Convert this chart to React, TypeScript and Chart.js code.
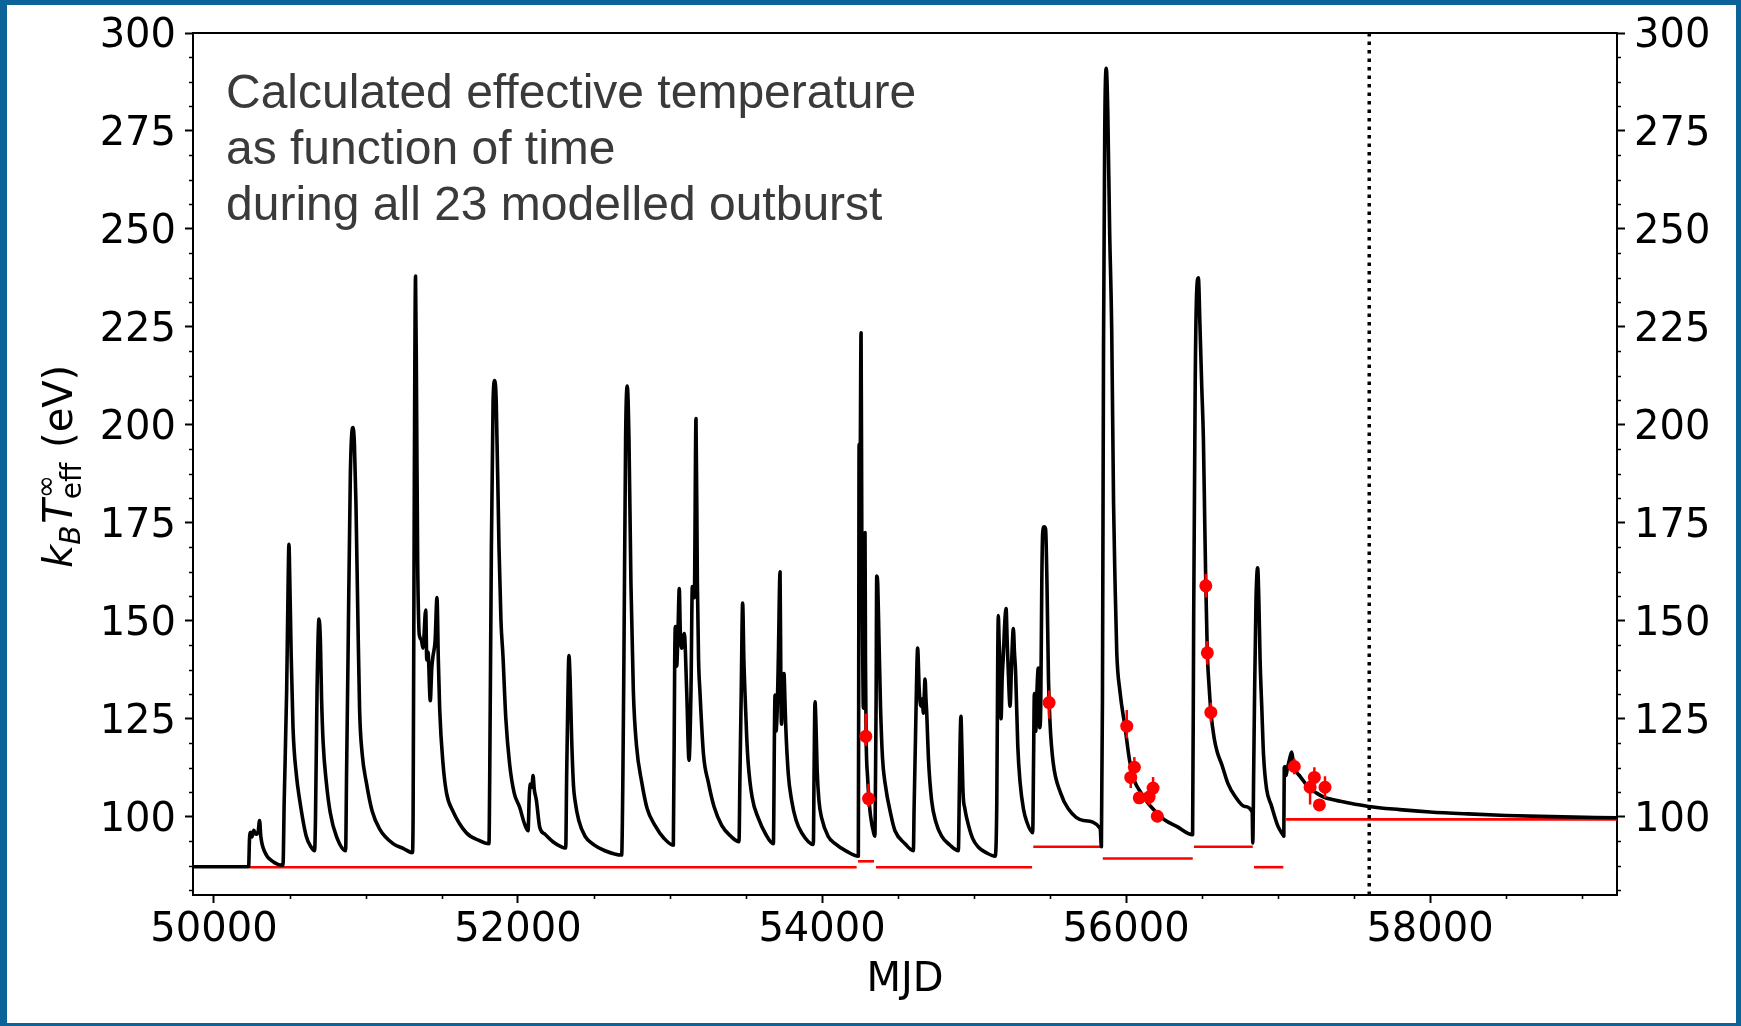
import React, { useEffect, useRef } from "react";
import { Chart, registerables } from "chart.js";
Chart.register(...registerables);

// ---- axis ranges / ticks ----
const xMin = 49862;
const xMax = 59230;
const yMin = 80;
const yMax = 300;
const xTicks = [50000, 52000, 54000, 56000, 58000];
const yTicks = [100, 125, 150, 175, 200, 225, 250, 275, 300];
const markerMJD = 57600;

// ---- model curve ----
const curveMJD = [
  49862, 50228, 50234, 50242, 50250, 50262, 50275, 50290, 50300, 50308, 50334, 50388, 50454,
  50462, 50478, 50488, 50493, 50499, 50508, 50520, 50542, 50564, 50607, 50640, 50662,
  50668, 50678, 50691, 50700, 50708, 50718, 50739, 50765, 50805, 50866,
  50872, 50882, 50897, 50914, 50924, 50934, 50947, 50958, 50975, 51002, 51040, 51090, 51178, 51250, 51305,
  51310, 51318, 51326, 51333, 51340, 51348, 51353, 51365, 51375, 51393, 51400, 51408, 51423, 51433, 51441, 51455, 51467, 51476, 51485, 51507, 51530, 51572, 51660, 51740, 51809,
  51814, 51825, 51836, 51847, 51857, 51875, 51888, 51901, 51920, 51945, 51975, 52011, 52040, 52066,
  52075, 52084, 52092, 52099, 52107, 52121, 52143, 52178, 52230, 52314,
  52320, 52326, 52335, 52343, 52353, 52365, 52375, 52400, 52441, 52500, 52572, 52682,
  52690, 52697, 52708, 52719, 52730, 52743, 52759, 52780, 52814, 52850, 52901, 52960, 53022,
  53031, 53035, 53044, 53053, 53061, 53068, 53077, 53094, 53110, 53125, 53138, 53147, 53160, 53171, 53180, 53188, 53197, 53220, 53252, 53290, 53340, 53400, 53454,
  53460, 53468, 53478, 53486, 53493, 53505, 53515, 53540, 53581, 53630, 53680,
  53688, 53691, 53697, 53706, 53713, 53724, 53730, 53734, 53741, 53750, 53756, 53761, 53778, 53800, 53830, 53866, 53943,
  53948, 53954, 53960, 53968, 53980, 53998, 54040, 54086, 54160, 54239,
  54242, 54244, 54250, 54257, 54262, 54268, 54272, 54278, 54283, 54286, 54290, 54300, 54308, 54320, 54342, 54348,
  54352, 54356, 54360, 54367, 54375, 54385, 54398, 54414, 54458, 54480, 54546, 54601,
  54606, 54615, 54624, 54629, 54640, 54651, 54660, 54667, 54678, 54684, 54689, 54700, 54721, 54750, 54787, 54840, 54897,
  54903, 54908, 54914, 54920, 54928, 54940, 54952, 54990, 55029, 55080, 55138,
  55150, 55156, 55160, 55165, 55169, 55174, 55178, 55185, 55193, 55203, 55211, 55218, 55226, 55237, 55248, 55259, 55266, 55274, 55288, 55303, 55325, 55347, 55386,
  55392, 55397, 55406, 55413, 55423, 55432, 55439, 55446, 55452, 55462, 55471, 55480, 55490, 55500, 55520, 55570, 55620, 55720, 55830,
  55838, 55845, 55852, 55860, 55870, 55880, 55892, 55906, 55918, 55928, 55939, 55960, 55994, 56025, 56059, 56092, 56147, 56202, 56260, 56333, 56438,
  56445, 56455, 56466, 56476, 56486, 56498, 56509, 56518, 56525, 56535, 56547, 56559, 56580, 56600, 56629, 56670, 56717, 56780, 56830,
  56834, 56840, 56846, 56855, 56866, 56874, 56882, 56893, 56905, 56925, 56955, 57000, 57035,
  57038, 57041, 57046, 57052, 57060, 57075, 57090, 57100, 57120, 57145, 57200, 57254, 57300, 57364, 57450, 57594, 57800, 58000, 58250, 58500, 58800, 59230,
];
const curveTeff = [
  87.2, 87.2, 94.5, 96, 94.8, 96.5, 95.5, 96, 99, 95, 91, 88.5, 87.6,
  104, 132, 160, 169.5, 160, 141, 122.7, 110.7, 104.2, 95, 92.2, 91.3,
  100, 132, 150.4, 145, 130, 119, 108.8, 101, 95, 91.3,
  110, 141, 187, 199.3, 195, 180, 150, 127.3, 116, 108.8, 101.5, 96.8, 93.1, 91.8, 90.8,
  100, 185, 238, 205, 165, 148, 146, 145, 143, 152.7, 140, 142, 129.6, 138, 141, 145, 155.9, 140, 127.3, 113.4, 106, 101.4, 95.9, 94, 93.1,
  110, 168.8, 205.7, 211.3, 205.7, 168.8, 150, 141.1, 125, 113.4, 106, 102.4, 98.5, 96.4,
  106, 108.4, 107.5, 110.5, 107, 104.2, 97.3, 95.5, 93.6, 92,
  110, 125, 141.1, 135, 120, 108, 104.2, 99, 95, 92.8, 91.3, 90.2,
  110, 141, 196.5, 209.9, 196.5, 159.6, 131.9, 118, 108.8, 102, 97.8, 94.5, 92.7,
  140, 148.5, 138.4, 148, 158.2, 147, 143, 146.7, 131.9, 114.4, 132, 158.7, 155.9, 201.6, 160, 140, 131.9, 116, 108.8, 102.5, 97.8, 95, 93.6,
  110, 130, 154.5, 140, 131.9, 120, 113.4, 105, 99.6, 95.5, 93.1,
  125, 131, 121.8, 128, 141, 162.5, 130, 123.6, 133.7, 136.5, 130, 123.6, 111, 104.2, 99, 95.9, 92.9,
  112, 129.3, 124, 112, 104, 99.6, 95, 93.1, 91.2, 89.9,
  150, 195, 185, 223.5, 170, 140, 127.7, 150, 172.5, 140, 121, 110, 105, 100, 95.5, 95,
  110, 130, 161.4, 159, 145, 128, 115, 108.8, 99.6, 96.4, 93.1, 91.3,
  102.4, 120, 138, 143, 132, 128.2, 130, 126.4, 135.1, 130, 126.4, 115, 104.2, 98.5, 95, 92.8, 91.3,
  105, 118, 125.6, 118, 106, 102, 99.6, 94.5, 92.2, 90.8, 89.9,
  104, 140, 151.3, 145, 141, 130, 125, 135, 141.1, 150, 153.1, 145, 136.5, 128.2, 140, 148, 142, 136.5, 118, 108.8, 102, 98.7, 95.9,
  115, 131.4, 121.8, 131, 137.9, 122.7, 128, 160, 172.5, 174, 173.4, 159.6, 135, 124, 114, 106, 102, 99, 97,
  92.3, 130, 220, 275, 291, 280, 250, 224, 180, 159.6, 142, 132, 122.7, 114, 108.8, 106.5, 103.3, 101, 99, 97.5, 95.4,
  150, 210, 235, 237.5, 226, 210, 196.5, 175, 159, 141.6, 133, 126.4, 120, 116.5, 113.4, 108.5, 105.2, 102.6, 101.2,
  93.3, 112, 132, 155, 163.5, 155, 140, 128, 115.5, 107, 103, 97.5, 95.2,
  95, 112.5, 112.8, 110.5, 112, 114.5, 116.5, 114, 111.5, 110.3, 107.5, 106, 105, 104.3, 103.6, 102.6, 101.8, 101.2, 100.7, 100.3, 100, 99.7,
];

// ---- observed temperatures with error bars ----
const obsMJD = [54288, 54306, 55494, 56005, 56031, 56055, 56087, 56152, 56178, 56206, 56525, 56535, 56558, 57107, 57211, 57239, 57272, 57309];
const obsTeff = [120.5, 104.6, 129.1, 123.1, 110.0, 112.6, 104.8, 105.0, 107.3, 100.1, 158.9, 141.8, 126.6, 112.8, 107.5, 110.0, 103.0, 107.5];
const obsLo = [118.0, 102.5, 125.0, 120.0, 107.3, 109.6, 103.3, 103.0, 104.2, 98.9, 155.9, 138.8, 124.1, 110.8, 103.1, 107.3, 101.8, 104.8];
const obsHi = [126.3, 108.4, 132.2, 127.2, 112.0, 115.2, 106.3, 107.0, 110.1, 101.3, 161.9, 144.8, 129.1, 114.8, 109.9, 112.6, 104.2, 110.3];

// ---- base (initial) temperature levels per interval ----
const segStart = [50236, 54237, 54355, 55390, 55847, 56447, 56842, 57053];
const segEnd = [54228, 54342, 55382, 55840, 56439, 56834, 57035, 59230];
const segLevel = [87.1, 88.6, 87.1, 92.3, 89.3, 92.3, 87.1, 99.3];

const noteLines = [
  "Calculated effective temperature",
  "as function of time",
  "during all 23 modelled outburst",
];

const tickFont = { family: "'DejaVu Sans'", size: 40 };

const decorPlugin = {
  id: "decor",
  afterDatasetsDraw(chart: any) {
    const { ctx, chartArea: ca, scales } = chart;
    const xs = scales.x;
    const ys = scales.y;
    ctx.save();
    ctx.beginPath();
    ctx.rect(ca.left, ca.top, ca.right - ca.left, ca.bottom - ca.top);
    ctx.clip();
    ctx.strokeStyle = "#ff0000";
    ctx.lineWidth = 2.5;
    obsMJD.forEach((m, i) => {
      const px = xs.getPixelForValue(m);
      ctx.beginPath();
      ctx.moveTo(px, ys.getPixelForValue(obsLo[i]));
      ctx.lineTo(px, ys.getPixelForValue(obsHi[i]));
      ctx.stroke();
    });
    ctx.restore();
  },
  afterDraw(chart: any) {
    const { ctx, chartArea: ca, scales } = chart;
    const xs = scales.x;
    const ys = scales.y;
    ctx.save();
    ctx.strokeStyle = "#000";
    ctx.lineWidth = 2;
    // top spine
    ctx.beginPath();
    ctx.moveTo(ca.left - 1, ca.top);
    ctx.lineTo(ca.right + 1, ca.top);
    ctx.stroke();
    // minor ticks
    ctx.lineWidth = 1.6;
    for (let v = yMax; v >= yMin; v -= 6.25) {
      if (v % 25 === 0) continue;
      const py = Math.round(ys.getPixelForValue(v)) + 0.5;
      ctx.beginPath();
      ctx.moveTo(ca.left - 4, py);
      ctx.lineTo(ca.left, py);
      ctx.moveTo(ca.right, py);
      ctx.lineTo(ca.right + 4, py);
      ctx.stroke();
    }
    for (let v = 50500; v <= xMax; v += 500) {
      if (v % 2000 === 0) continue;
      const px = Math.round(xs.getPixelForValue(v)) + 0.5;
      ctx.beginPath();
      ctx.moveTo(px, ca.bottom);
      ctx.lineTo(px, ca.bottom + 4);
      ctx.stroke();
    }
    // x title
    ctx.fillStyle = "#000";
    ctx.font = "40px 'DejaVu Sans'";
    ctx.textAlign = "center";
    ctx.textBaseline = "alphabetic";
    ctx.fillText("MJD", (ca.left + ca.right) / 2, 991);
    // y title (rotated, mathtext-like)
    ctx.save();
    ctx.translate(72, 568);
    ctx.rotate(-Math.PI / 2);
    ctx.textAlign = "left";
    let cx = 0;
    ctx.font = "italic 40px 'DejaVu Sans'";
    ctx.fillText("k", cx, 0);
    cx += ctx.measureText("k").width;
    ctx.font = "italic 28px 'DejaVu Sans'";
    ctx.fillText("B", cx, 8);
    cx += ctx.measureText("B").width + 2;
    ctx.font = "italic 40px 'DejaVu Sans'";
    ctx.fillText("T", cx, 0);
    cx += ctx.measureText("T").width;
    ctx.font = "28px 'DejaVu Sans'";
    const wInf = ctx.measureText("∞").width;
    const wEff = ctx.measureText("eff").width;
    ctx.fillText("∞", cx + 1, -17);
    ctx.fillText("eff", cx, 9);
    cx += Math.max(wInf, wEff) + 2;
    ctx.font = "40px 'DejaVu Sans'";
    ctx.fillText(" (eV)", cx, 0);
    ctx.restore();
    // annotation
    ctx.fillStyle = "#3a3a3a";
    ctx.font = "48px 'Liberation Sans'";
    ctx.textAlign = "left";
    noteLines.forEach((t, i) => ctx.fillText(t, 226, 108 + i * 56));
    ctx.restore();
  },
};

export default function App() {
  const ref = useRef<HTMLCanvasElement>(null);
  useEffect(() => {
    const canvas = ref.current;
    if (!canvas) return;
    const datasets: any[] = [];
    datasets.push({
      data: obsMJD.map((m, i) => ({ x: m, y: obsTeff[i] })),
      showLine: false,
      pointRadius: 6.5,
      pointBackgroundColor: "#ff0000",
      pointBorderWidth: 0,
      borderColor: "#ff0000",
    });
    datasets.push({
      data: [
        { x: markerMJD, y: yMin },
        { x: markerMJD, y: yMax },
      ],
      showLine: true,
      borderColor: "#000",
      borderWidth: 3.5,
      borderDash: [3.5, 5],
      pointRadius: 0,
    });
    datasets.push({
      data: curveMJD.map((m, i) => ({ x: m, y: curveTeff[i] })),
      showLine: true,
      borderColor: "#000",
      borderWidth: 3.6,
      pointRadius: 0,
      cubicInterpolationMode: "monotone",
      borderJoinStyle: "round",
    });
    segStart.forEach((s, i) => {
      datasets.push({
        data: [
          { x: s, y: segLevel[i] },
          { x: segEnd[i], y: segLevel[i] },
        ],
        showLine: true,
        borderColor: "#ff0000",
        borderWidth: 2.6,
        pointRadius: 0,
      });
    });
    const gridOpts = {
      drawOnChartArea: false,
      drawTicks: true,
      tickLength: 8,
      tickWidth: 2,
      tickColor: "#000",
    };
    const yScale = (pos: string, w: number) => ({
      type: "linear",
      position: pos,
      min: yMin,
      max: yMax,
      afterBuildTicks: (s: any) => {
        s.ticks = yTicks.map((v) => ({ value: v }));
      },
      afterFit: (s: any) => {
        s.width = w;
      },
      ticks: {
        font: tickFont,
        color: "#000",
        padding: 9,
        labelOffset: 4,
        callback: (v: any) => String(v),
      },
      grid: gridOpts,
      border: { display: true, color: "#000", width: 2 },
    });
    const chart = new Chart(canvas, {
      type: "scatter",
      data: { datasets },
      options: {
        responsive: false,
        devicePixelRatio: 1,
        animation: false,
        events: [],
        layout: { padding: { top: 33, left: 0, right: 0, bottom: 0 } },
        plugins: { legend: { display: false }, tooltip: { enabled: false } },
        scales: {
          x: {
            type: "linear",
            position: "bottom",
            min: xMin,
            max: xMax,
            afterBuildTicks: (s: any) => {
              s.ticks = xTicks.map((v) => ({ value: v }));
            },
            afterFit: (s: any) => {
              s.height = 131;
            },
            ticks: {
              font: tickFont,
              color: "#000",
              padding: 4,
              maxRotation: 0,
              autoSkip: false,
              callback: (v: any) => String(v),
            },
            grid: gridOpts,
            border: { display: true, color: "#000", width: 2 },
          },
          y: yScale("left", 193),
          y2: yScale("right", 124),
        },
      } as any,
      plugins: [decorPlugin],
    } as any);
    return () => chart.destroy();
  }, []);
  return (
    <div
      style={{
        position: "fixed",
        left: 0,
        top: 0,
        width: 1741,
        height: 1026,
        background: "#0b6399",
        overflow: "hidden",
      }}
    >
      <div
        style={{
          position: "absolute",
          left: 7,
          top: 5,
          width: 1729,
          height: 1018,
          background: "#ffffff",
        }}
      />
      <canvas
        ref={ref}
        width={1741}
        height={1026}
        style={{ position: "absolute", left: 0, top: 0, width: 1741, height: 1026 }}
      />
    </div>
  );
}
